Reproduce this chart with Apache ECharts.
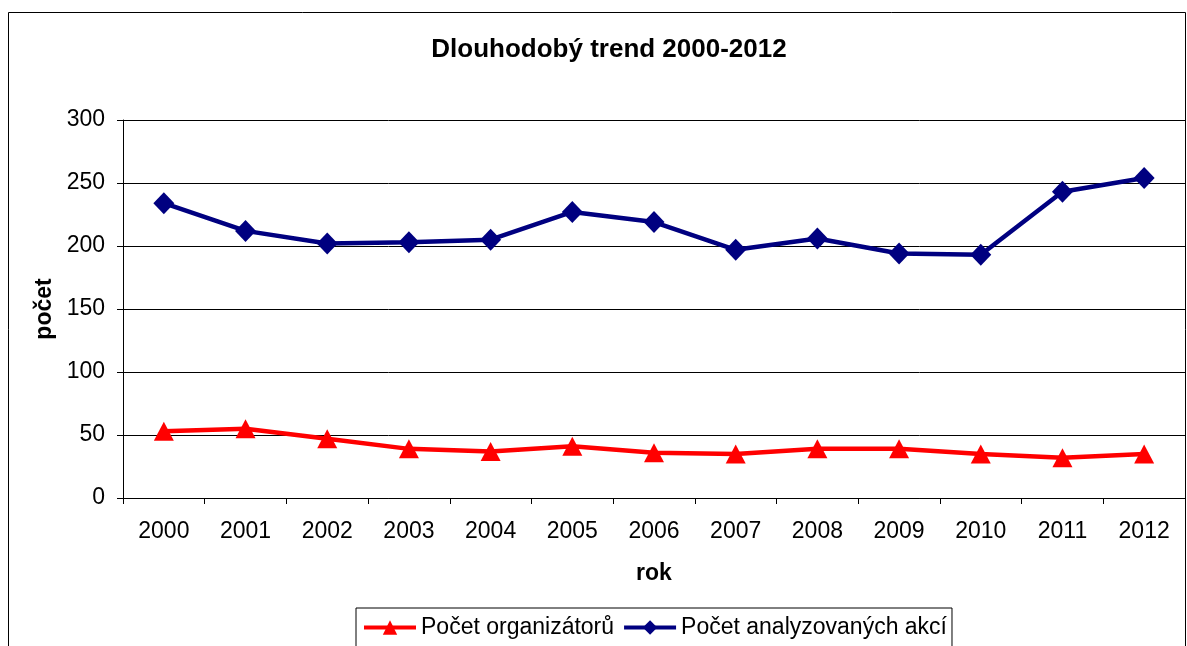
<!DOCTYPE html>
<html><head><meta charset="utf-8">
<script src="https://cdn.jsdelivr.net/npm/echarts@6/dist/echarts.min.js"></script>
<style>html,body{margin:0;padding:0;background:#fff}#c{width:1187px;height:646px}</style>
</head><body><div id="c"></div>
<script>
const years = ['2000','2001','2002','2003','2004','2005','2006','2007','2008','2009','2010','2011','2012'];
const organizatoru = [53,55,47,39,37,41,36,35,39,39,35,32,35];
const akci = [234,212,202,203,205,227,219,197,206,194,193,243,254];
const yTicks = [0,50,100,150,200,250,300];

const chart = echarts.init(document.getElementById('c'));
const F = '"Liberation Sans", Arial, sans-serif';
chart.setOption({
  animation:false,
  backgroundColor:'#fff',
  textStyle:{fontFamily:F},
  title:{text:'Dlouhodobý trend 2000-2012',left:604,textAlign:'center',top:32,
    textStyle:{fontFamily:F,fontSize:26,fontWeight:'bold',color:'#000'}},
  graphic:[{type:'rect',shape:{x:8.5,y:12.5,width:1177,height:700},
    style:{fill:'none',stroke:'#000',lineWidth:1}}],
  grid:{left:123,right:2,top:120,bottom:148},
  legend:{top:608,left:356,itemWidth:52,itemHeight:18,itemGap:8,
    borderColor:'#000',borderWidth:1,padding:[8,5,20,6],
    lineStyle:{width:4},
    textStyle:{fontFamily:F,fontSize:23,color:'#000'},
    data:['Počet organizátorů','Počet analyzovaných akcí']},
  xAxis:{type:'category',data:years,boundaryGap:true,name:'rok',nameLocation:'middle',nameGap:64,
    nameTextStyle:{fontFamily:F,fontSize:23,fontWeight:'bold',color:'#000'},
    axisLine:{lineStyle:{color:'#000',width:1}},
    axisTick:{show:true,length:6,alignWithLabel:false,lineStyle:{color:'#000'}},
    axisLabel:{fontFamily:F,fontSize:23,color:'#000',margin:22}},
  yAxis:{type:'value',min:0,max:300,interval:50,name:'počet',nameLocation:'middle',nameGap:65,
    nameTextStyle:{fontFamily:F,fontSize:23,fontWeight:'bold',color:'#000'},
    axisLine:{show:true,lineStyle:{color:'#000',width:1}},
    axisTick:{show:true,length:6,lineStyle:{color:'#000'}},
    axisLabel:{fontFamily:F,fontSize:23,color:'#000',margin:18,
      formatter:v=>yTicks.includes(v)?String(v):''},
    splitLine:{show:true,lineStyle:{color:'#000',width:1}}},
  series:[
    {name:'Počet organizátorů',type:'line',data:organizatoru,symbol:'triangle',symbolSize:[20,19],
      lineStyle:{color:'#ff0000',width:4.5},itemStyle:{color:'#ff0000'}},
    {name:'Počet analyzovaných akcí',type:'line',data:akci,symbol:'diamond',symbolSize:[21,22],
      lineStyle:{color:'#000080',width:4.5},itemStyle:{color:'#000080'}}
  ]
});
</script></body></html>
